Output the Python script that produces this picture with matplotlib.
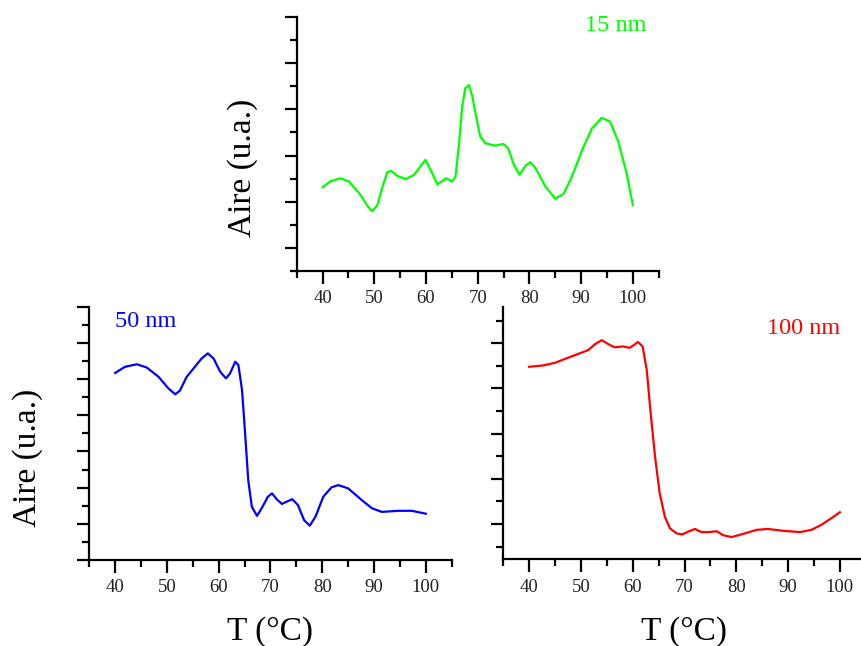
import matplotlib
matplotlib.use("Agg")
from matplotlib import pyplot as plt
from matplotlib.ticker import FixedLocator, NullFormatter

plt.rcParams['font.family'] = ['Liberation Serif', 'DejaVu Serif']

# 15 nm (green), top panel
t15 = [40.0, 41.6, 43.5, 45.1, 47.1, 48.7, 49.6, 50.6, 51.6, 52.5, 53.2, 54.5,
       56.1, 57.7, 59.0, 59.9, 60.9, 62.2, 63.0, 63.9, 65.1, 65.7, 66.4, 67.0,
       67.6, 68.3, 68.9, 69.7, 70.5, 71.5, 73.4, 75.0, 75.9, 77.0, 78.1, 79.2,
       80.2, 81.2, 83.1, 85.0, 86.6, 88.2, 90.2, 92.1, 94.0, 95.6, 97.2, 98.8, 100.0]
a15 = [3.62, 3.89, 4.01, 3.87, 3.36, 2.81, 2.58, 2.85, 3.65, 4.27, 4.34, 4.11,
       3.98, 4.16, 4.55, 4.81, 4.37, 3.75, 3.87, 4.01, 3.87, 4.08, 5.53, 7.12,
       7.92, 8.06, 7.63, 6.69, 5.82, 5.53, 5.43, 5.50, 5.31, 4.59, 4.16, 4.55,
       4.71, 4.45, 3.65, 3.13, 3.33, 4.08, 5.24, 6.18, 6.64, 6.47, 5.60, 4.23, 2.85]

# 50 nm (blue), bottom left
t50 = [40.0, 41.9, 44.2, 46.1, 48.4, 50.3, 51.6, 52.5, 53.8, 55.4, 56.7, 57.9,
       59.0, 60.3, 61.4, 62.2, 63.2, 63.8, 64.5, 65.1, 65.7, 66.4, 67.4, 68.3,
       69.5, 70.3, 71.2, 72.2, 73.1, 74.2, 75.3, 76.5, 77.6, 78.7, 80.2, 81.8,
       83.1, 85.0, 87.6, 89.6, 91.5, 94.7, 97.3, 100.0]
a50 = [5.17, 5.34, 5.41, 5.32, 5.06, 4.74, 4.58, 4.68, 5.06, 5.34, 5.57, 5.71,
       5.57, 5.20, 5.02, 5.16, 5.48, 5.39, 4.70, 3.50, 2.21, 1.47, 1.22, 1.43,
       1.75, 1.84, 1.68, 1.55, 1.61, 1.68, 1.52, 1.10, 0.95, 1.20, 1.75, 2.01,
       2.07, 1.98, 1.66, 1.43, 1.33, 1.36, 1.36, 1.28]

# 100 nm (red), bottom right
t100 = [40.0, 42.7, 45.0, 47.5, 49.8, 51.4, 52.7, 54.0, 55.3, 56.5, 58.1, 59.4,
        60.2, 61.0, 61.9, 62.7, 63.4, 64.3, 65.2, 66.2, 67.2, 68.5, 69.6, 70.7,
        72.0, 73.3, 74.6, 76.2, 77.5, 79.1, 81.3, 83.9, 86.1, 89.0, 92.3, 94.5,
        96.4, 98.4, 100.0]
a100 = [4.48, 4.51, 4.57, 4.68, 4.78, 4.85, 4.98, 5.07, 4.98, 4.91, 4.93, 4.90,
        4.96, 5.03, 4.93, 4.41, 3.52, 2.49, 1.68, 1.16, 0.90, 0.79, 0.77, 0.83,
        0.89, 0.82, 0.82, 0.84, 0.75, 0.71, 0.78, 0.87, 0.89, 0.85, 0.82, 0.87,
        0.98, 1.13, 1.26]

xmajor = [40, 50, 60, 70, 80, 90, 100]
xminor = [35, 45, 55, 65, 75, 85, 95, 105]


def style(ax, ylim, ymajor, yminor):
    ax.set_xlim(35, 105)
    ax.set_ylim(*ylim)
    for s in ['top', 'right']:
        ax.spines[s].set_visible(False)
    for s in ['left', 'bottom']:
        ax.spines[s].set_linewidth(1.6)
    ax.xaxis.set_major_locator(FixedLocator(xmajor))
    ax.xaxis.set_minor_locator(FixedLocator(xminor))
    ax.yaxis.set_major_locator(FixedLocator(ymajor))
    ax.yaxis.set_minor_locator(FixedLocator(yminor))
    ax.yaxis.set_major_formatter(NullFormatter())
    ax.tick_params(which='major', length=9, width=1.6, direction='out',
                   labelsize=13.5, labelcolor='#222222', pad=5)
    ax.tick_params(which='minor', length=5, width=1.6, direction='out')
    ax.set_facecolor('none')


fig = plt.figure(figsize=(8.61, 6.46), dpi=100)

ax1 = fig.add_axes([0.3446, 0.581, 0.4204, 0.3922])
ax1.plot(t15, a15, color='#00ff00', lw=1.6, solid_joinstyle='round')
style(ax1, (0, 11), [1, 3, 5, 7, 9, 11], [0, 2, 4, 6, 8, 10])

ax2 = fig.add_axes([0.1037, 0.1331, 0.4209, 0.3921])
ax2.plot(t50, a50, color='#0000ff', lw=1.6, solid_joinstyle='round')
style(ax2, (0, 7), [0, 1, 2, 3, 4, 5, 6, 7], [0.5, 1.5, 2.5, 3.5, 4.5, 5.5, 6.5])

ax3 = fig.add_axes([0.5846, 0.1342, 0.4209, 0.391])
ax3.plot(t100, a100, color='#ff0000', lw=1.6, solid_joinstyle='round')
style(ax3, (0.218, 5.81), [1, 2, 3, 4, 5], [0.5, 1.5, 2.5, 3.5, 4.5, 5.5])

fig.text(0.2817, 0.740, 'Aire (u.a.)', rotation=90, fontsize=24,
         ha='center', va='center')
fig.text(0.0325, 0.2918, 'Aire (u.a.)', rotation=90, fontsize=24,
         ha='center', va='center')
fig.text(0.3136, 0.023, 'T (°C)', fontsize=24, ha='center', va='center')
fig.text(0.7944, 0.023, 'T (°C)', fontsize=24, ha='center', va='center')

fig.text(0.679, 0.96, '15 nm', fontsize=17.5, color='#00ff00', va='center')
fig.text(0.1336, 0.503, '50 nm', fontsize=17.5, color='#0000ff', va='center')
fig.text(0.8908, 0.492, '100 nm', fontsize=17.5, color='#ff0000', va='center')

fig.savefig('out.png', dpi=100)
